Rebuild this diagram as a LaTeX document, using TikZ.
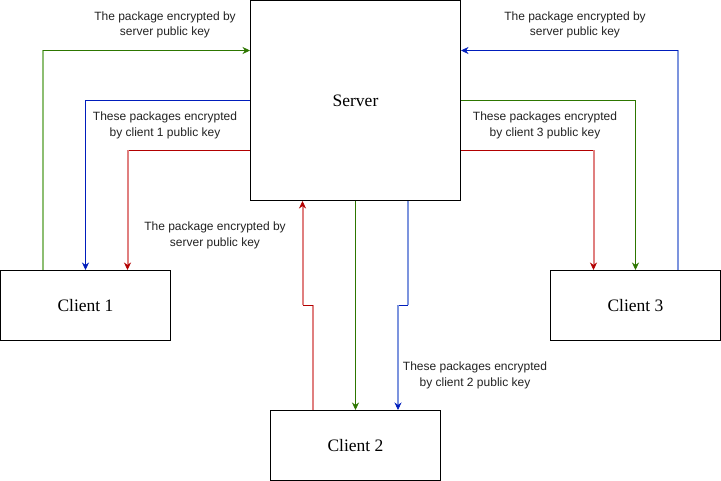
\documentclass[tikz,border=0pt]{standalone}
\usepackage{fontspec}
\setmainfont{Liberation Serif}
\newfontfamily\labelfont{Liberation Sans}
\usetikzlibrary{arrows.meta}

\definecolor{dgreen}{HTML}{2D7600}
\definecolor{lgreen}{HTML}{8DBE72}
\definecolor{dred}{HTML}{B20000}
\definecolor{lred}{HTML}{E07F7F}
\definecolor{dblue}{HTML}{001DBC}
\definecolor{lblue}{HTML}{7C94DE}
\definecolor{labeltext}{HTML}{222222}

\tikzset{
  box/.style={draw, line width=1pt, inner sep=0pt, font=\fontsize{17.5}{20}\selectfont},
  msg/.style={inner sep=0pt, align=center, text=labeltext, font=\labelfont\fontsize{12}{15.6}\selectfont},
  dline/.style={draw=#1, line width=1pt},
  lline/.style={draw=#1, line width=2pt},
  tip/.style={-{Stealth[length=7.5pt,width=7pt,inset=2.5pt,line width=0.6pt,color=#1]}}
}

\begin{document}
\begin{tikzpicture}[x=1pt, y=-1pt]

\def \rowa {50.5}
\def \rowb {100.5}
\def \rowc {150.5}
\def \rowd {305.5}

\useasboundingbox (0,0) rectangle (721,481);

% boxes
\node [box, minimum width=210pt, minimum height=200pt] (server) at (355.5,100.5) {Server};
\node [box, minimum width=170pt, minimum height=70pt] (c1) at (85.5,305.5) {Client 1};
\node [box, minimum width=170pt, minimum height=70pt] (c2) at (355.5,445.5) {Client 2};
\node [box, minimum width=170pt, minimum height=70pt] (c3) at (635.5,305.5) {Client 3};

% labels
\node [msg] (m1) at (165,25) {The package encrypted by\\server public key};
\node [msg] (m2) at (165,125.5) {These packages encrypted\\by client 1 public key};
\node [msg] (m3) at (215,235.5) {The package encrypted by\\server public key};
\node [msg] (m4) at (575,25) {The package encrypted by\\server public key};
\node [msg] (m5) at (545,125.5) {These packages encrypted\\by client 3 public key};
\node [msg] (m6) at (475,375.5) {These packages encrypted\\by client 2 public key};

% client 1
\draw [lline=lgreen] (c1.north -| 42.5,0) -- (42.5,\rowa) coordinate (g1);
\draw [dline=dgreen, tip=dgreen] (g1) -- (server.west |- g1);
\draw [dline=dblue, tip=dblue] (server.west |- 0,\rowb) -| (c1.north -| 85.5,0);
\draw [dline=dred] (server.west |- 0,\rowc) -- (127.5,\rowc) coordinate (r1);
\draw [lline=lred, tip=dred] (r1) -- (c1.north -| r1);

% client 2
\draw [lline=lred] (c2.north -| 313,0) -- (313,\rowd) coordinate (r2a);
\draw [dline=dred] (r2a) -- (302.5,\rowd) coordinate (r2b);
\draw [lline=lred, tip=dred] (r2b) -- (server.south -| r2b);
\draw [dline=dgreen, tip=dgreen] (server.south -| 355.5,0) -- (c2.north -| 355.5,0);
\draw [lline=lblue] (server.south -| 408,0) -- (408,\rowd) coordinate (b2a);
\draw [dline=dblue] (b2a) -- (398,\rowd) coordinate (b2b);
\draw [lline=lblue, tip=dblue] (b2b) -- (c2.north -| b2b);

% client 3
\draw [lline=lblue] (c3.north -| 677.5,0) -- (677.5,\rowa) coordinate (b3);
\draw [dline=dblue, tip=dblue] (b3) -- (server.east |- b3);
\draw [dline=dgreen, tip=dgreen] (server.east |- 0,\rowb) -| (c3.north -| 635.5,0);
\draw [dline=dred] (server.east |- 0,\rowc) -- (593.5,\rowc) coordinate (r3);
\draw [lline=lred, tip=dred] (r3) -- (c3.north -| r3);

\end{tikzpicture}
\end{document}
